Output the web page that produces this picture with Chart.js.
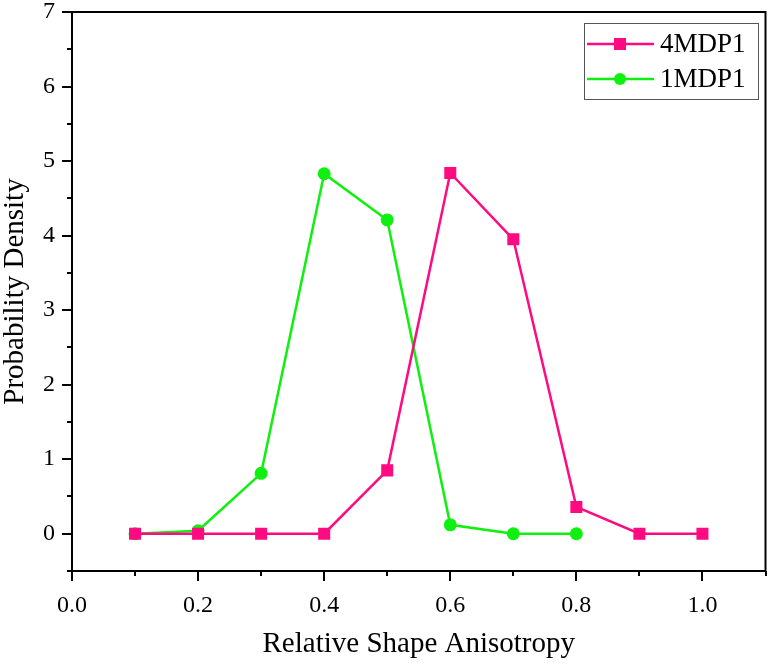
<!DOCTYPE html>
<html>
<head>
<meta charset="utf-8">
<script src="https://cdn.jsdelivr.net/npm/chart.js@4"></script>
<style>
  html, body { margin: 0; padding: 0; background: #fff; }
  #wrap { width: 774px; height: 666px; }
</style>
</head>
<body>
<div id="wrap"><canvas id="densityChart" width="774" height="666"></canvas></div>
<script>
// values
const xValues4 = [0.1, 0.2, 0.3, 0.4, 0.5, 0.6, 0.7, 0.8, 0.9, 1.0];
const density4 = [0, 0, 0, 0, 0.85, 4.84, 3.95, 0.36, 0, 0];
const xValues1 = [0.1, 0.2, 0.3, 0.4, 0.5, 0.6, 0.7, 0.8];
const density1 = [0, 0.04, 0.81, 4.83, 4.21, 0.12, 0, 0];
const xTickLabels = ['0.0', '0.2', '0.4', '0.6', '0.8', '1.0'];
const yTickLabels = ['0', '1', '2', '3', '4', '5', '6', '7'];

const pink = '#ff0a80';
const green = '#10f010';
const serif = '"Liberation Serif", "Times New Roman", serif';

function toPoints(xs, ys) {
    return xs.map((x, i) => ({ x: x, y: ys[i] }));
}

// frame, minor/major ticks and boxed legend
const framePlugin = {
    id: 'frame',
    afterDraw(chart) {
        const ctx = chart.ctx;
        const a = chart.chartArea;
        const xs = chart.scales.x;
        const ys = chart.scales.y;
        ctx.save();
        ctx.strokeStyle = '#000';
        ctx.lineWidth = 2;
        ctx.strokeRect(a.left, a.top, a.right - a.left, a.bottom - a.top);

        // x ticks every 0.1, major every 0.2
        for (let i = 0; i <= 11; i++) {
            const px = Math.round(xs.getPixelForValue(i / 10));
            const len = i % 2 === 0 ? 10 : 5;
            ctx.beginPath();
            ctx.moveTo(px, a.bottom);
            ctx.lineTo(px, a.bottom + len);
            ctx.stroke();
        }
        // y ticks every 0.5, major every 1
        for (let i = -1; i <= 14; i++) {
            const py = Math.round(ys.getPixelForValue(i / 2));
            const len = i % 2 === 0 ? 10 : 5;
            ctx.beginPath();
            ctx.moveTo(a.left, py);
            ctx.lineTo(a.left - len, py);
            ctx.stroke();
        }

        // legend
        const lx = 584, ly = 23, lw = 174, lh = 76;
        ctx.lineWidth = 1;
        ctx.strokeStyle = '#555';
        ctx.strokeRect(lx + 0.5, ly + 0.5, lw, lh);
        ctx.font = '27px ' + serif;
        ctx.textBaseline = 'middle';
        chart.data.datasets.forEach((ds, i) => {
            const cy = ly + 21 + i * 35;
            ctx.strokeStyle = ds.borderColor;
            ctx.lineWidth = 2.5;
            ctx.beginPath();
            ctx.moveTo(lx + 3, cy);
            ctx.lineTo(lx + 70, cy);
            ctx.stroke();
            ctx.fillStyle = ds.borderColor;
            if (ds.pointStyle === 'rect') {
                ctx.fillRect(lx + 30, cy - 6, 12, 12);
            } else {
                ctx.beginPath();
                ctx.arc(lx + 36, cy, 6, 0, Math.PI * 2);
                ctx.fill();
            }
            ctx.fillStyle = '#000';
            ctx.fillText(ds.label, lx + 76, cy + 1);
        });
        ctx.restore();
    }
};

new Chart(document.getElementById('densityChart').getContext('2d'), {
    type: 'line',
    data: {
        datasets: [
            {
                label: '4MDP1',
                data: toPoints(xValues4, density4),
                borderColor: pink,
                backgroundColor: pink,
                borderWidth: 2.5,
                pointStyle: 'rect',
                pointRadius: 8.5,
                pointBorderWidth: 0,
                tension: 0
            },
            {
                label: '1MDP1',
                data: toPoints(xValues1, density1),
                borderColor: green,
                backgroundColor: green,
                borderWidth: 2.5,
                pointStyle: 'circle',
                pointRadius: 6.5,
                pointBorderWidth: 0,
                tension: 0
            }
        ]
    },
    options: {
        responsive: false,
        animation: false,
        layout: { padding: 0 },
        plugins: {
            legend: { display: false },
            tooltip: { enabled: false }
        },
        scales: {
            x: {
                type: 'linear',
                min: 0,
                max: 1.1,
                border: { display: false },
                grid: { display: false },
                afterFit(scale) {
                    scale.height = 95;
                    scale.paddingLeft = 0;
                    scale.paddingRight = 4;
                },
                ticks: {
                    stepSize: 0.2,
                    padding: 12,
                    color: '#000',
                    font: { family: serif, size: 24 },
                    callback: (v) => {
                        const k = Math.round(v * 5);
                        return Math.abs(v * 5 - k) < 1e-6 ? xTickLabels[k] : '';
                    }
                },
                title: {
                    display: true,
                    text: 'Relative Shape Anisotropy',
                    color: '#000',
                    font: { family: serif, size: 29 },
                    padding: { top: 0, bottom: 4 }
                }
            },
            y: {
                type: 'linear',
                min: -0.5,
                max: 7,
                border: { display: false },
                grid: { display: false },
                afterFit(scale) {
                    scale.width = 72;
                    scale.paddingTop = 12;
                    scale.paddingBottom = 0;
                },
                afterBuildTicks(scale) {
                    scale.ticks = yTickLabels.map((t) => ({ value: Number(t) }));
                },
                ticks: {
                    padding: 9,
                    color: '#000',
                    font: { family: serif, size: 24 },
                    callback: (v) => yTickLabels[v] !== undefined ? yTickLabels[v] : ''
                },
                title: {
                    display: true,
                    text: 'Probability Density',
                    color: '#000',
                    font: { family: serif, size: 29, lineHeight: 1 },
                    padding: { top: 1, bottom: 0 }
                }
            }
        }
    },
    plugins: [framePlugin]
});
</script>
</body>
</html>
